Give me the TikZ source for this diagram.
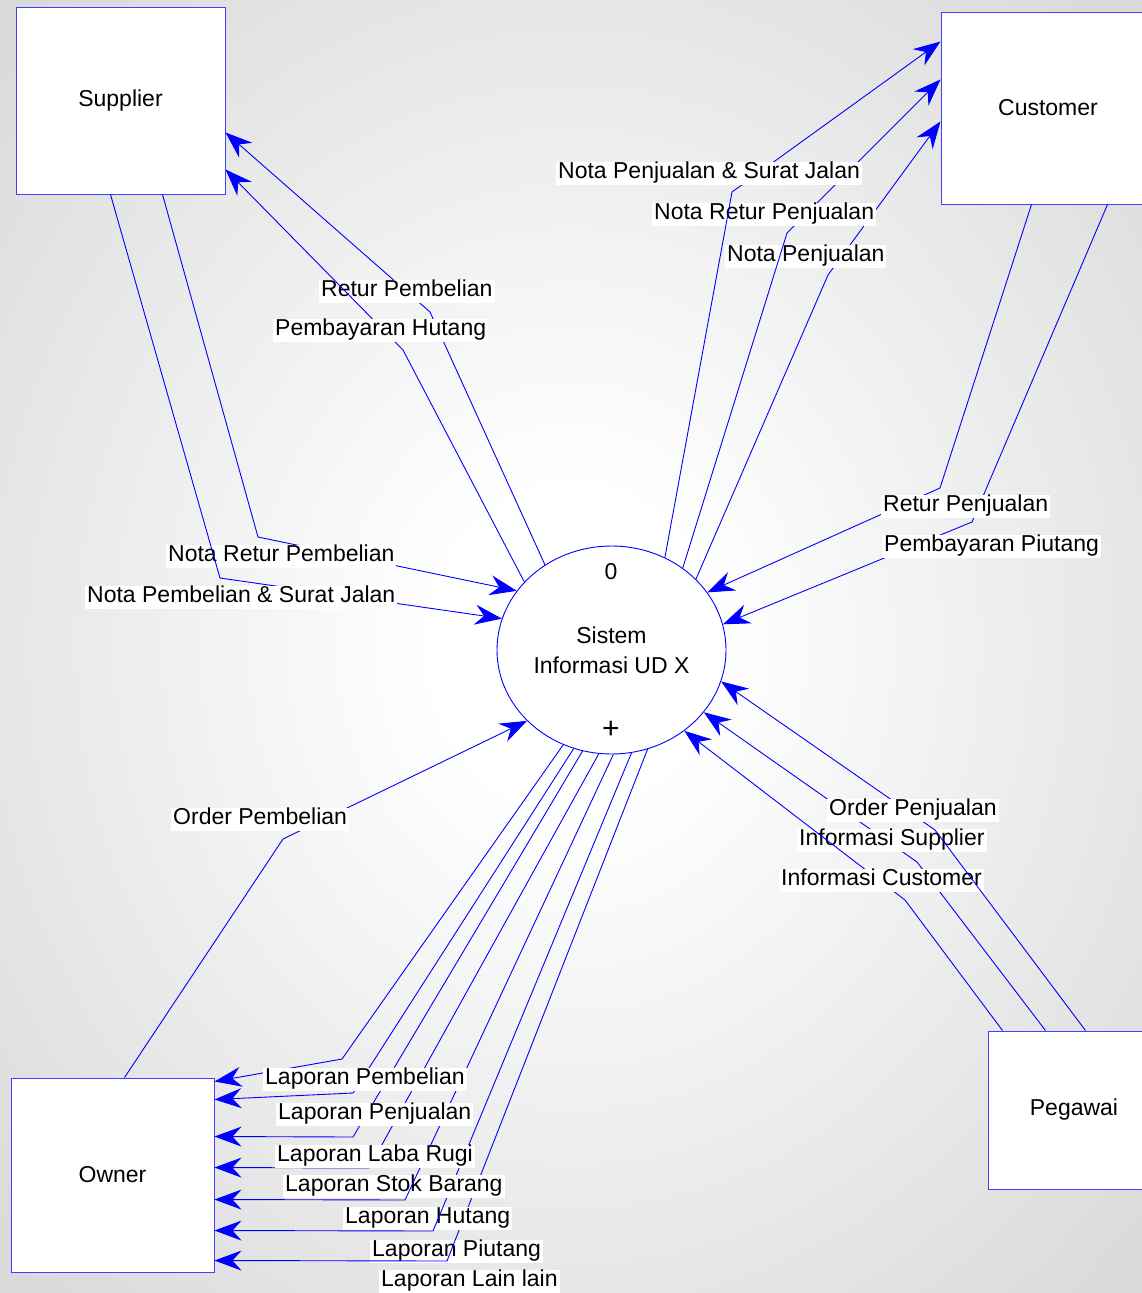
\documentclass[tikz,border=0pt]{standalone}
\usepackage{fontspec}
\setmainfont{Liberation Sans}
\usetikzlibrary{arrows.meta,shapes.geometric}
\definecolor{bgdark}{gray}{0.66}
\definecolor{edgeblue}{RGB}{64,64,255}
\pgfdeclareradialshading{bgrad}{\pgfpoint{0bp}{0bp}}{color(0bp)=(white); color(6bp)=(white); color(72bp)=(bgdark)}
\begin{document}
\begin{tikzpicture}[x=1pt,y=-1pt,
  every node/.style={font=\fontsize{23}{30}\selectfont},
  ent/.style={draw=edgeblue, line width=1pt, fill=white, inner sep=0pt},
  proc/.style={ellipse, draw=blue, line width=0.9pt, fill=white, minimum width=229pt, minimum height=208pt, inner sep=0pt, align=center},
  flow/.style={draw=blue, line width=0.9pt, -{Stealth[length=27pt,width=20pt,inset=9pt]}},
  lbl/.style={fill=white, anchor=west, yshift=-2.5pt, inner xsep=2pt, inner ysep=1pt, text height=15.5pt, text depth=5.5pt},
]
\useasboundingbox (0,0) rectangle (1142,1293);
\clip (0,0) rectangle (1142,1293);
\shade[shading=bgrad] (0,0) rectangle (1142,1293);

% entities and process
\node[ent, minimum width=209pt, minimum height=187pt] (S) at (120.5,100.5) {Supplier};
\node[ent, minimum width=214pt, minimum height=192pt] (C) at (1048,108) {Customer};
\node[ent, minimum width=172pt, minimum height=158pt] (G) at (1074,1110) {Pegawai};
\node[ent, minimum width=203pt, minimum height=194pt] (O) at (112.5,1175) {Owner};
\node[proc] (P) at (611.5,650) {Sistem\\Informasi UD X};
\node (pn) at (611,572) {0};
\node[font=\fontsize{30}{30}\selectfont] (pp) at (611,730) {+};

% Supplier flows
\draw[flow] (P.128) -- (430,312) -- ([yshift=-126pt]S.north east);
\node[lbl] (lRP) at (319,289) {Retur Pembelian};
\draw[flow] (P.142) -- (403,350) -- ([yshift=-163pt]S.north east);
\node[lbl] (lPH) at (273,328) {Pembayaran Hutang};
\draw[flow] ([xshift=147pt]S.south west) -- (258,537) -- (P.148);
\node[lbl] (lNRB) at (166,554) {Nota Retur Pembelian};
\draw[flow] ([xshift=95pt]S.south west) -- (220,578) -- (P.164);
\node[lbl] (lNPB) at (85,595) {Nota Pembelian \& Surat Jalan};

% Customer flows
\draw[flow] (P.40) -- (828,275) -- ([yshift=-110pt]C.north west);
\node[lbl] (lNP) at (725,254) {Nota Penjualan};
\draw[flow] (P.49) -- (787,233) -- ([yshift=-68pt]C.north west);
\node[lbl] (lNRP) at (652,212) {Nota Retur Penjualan};
\draw[flow] (P.60) -- (732,192) -- ([yshift=-30pt]C.north west);
\node[lbl] (lNPS) at (556,171) {Nota Penjualan \& Surat Jalan};
\draw[flow] ([xshift=167pt]C.south west) -- (972,522) -- (P.13);
\node[lbl] (lPP) at (882,544) {Pembayaran Piutang};
\draw[flow] ([xshift=91pt]C.south west) -- (940,488) -- (P.31);
\node[lbl] (lRJ) at (881,504) {Retur Penjualan};

% Pegawai flows
\draw[flow] ([xshift=58pt]G.north west) -- (917,862) -- (P.326);
\node[lbl] (lIS) at (797,838) {Informasi Supplier};
\draw[flow] ([xshift=15pt]G.north west) -- (905,900) -- (P.312);
\node[lbl] (lIC) at (779,878) {Informasi Customer};
\draw[flow] ([xshift=98pt]G.north west) -- (935,830) -- (P.344);
\node[lbl] (lOP) at (827,808) {Order Penjualan};

% Owner order
\draw[flow] ([xshift=114pt]O.north west) -- (283,839) -- (P.220);
\node[lbl] (lOPb) at (171,817) {Order Pembelian};

% Owner reports
\node[lbl] (lL7) at (379,1279) {Laporan Lain lain};
\node[lbl] (lL6) at (370,1249) {Laporan Piutang};
\draw[flow] (P.290) -- (447,1261) -- ([yshift=-183pt]O.north east);
\node[lbl] (lL5) at (343,1216) {Laporan Hutang};
\draw[flow] (P.281) -- (433,1231) -- ([yshift=-153pt]O.north east);
\node[lbl] (lL4) at (283,1184) {Laporan Stok Barang};
\draw[flow] (P.271) -- (405,1200) -- ([yshift=-122pt]O.north east);
\draw[flow] (P.263) -- (369,1168) -- ([yshift=-90pt]O.north east);
\draw[flow] (P.254) -- (353,1137) -- ([yshift=-59pt]O.north east);
\draw[flow] (P.249) -- (353,1093) -- ([yshift=-22pt]O.north east);
\draw[flow] (P.243) -- (342,1059) -- ([yshift=-4pt]O.north east);
\node[lbl] (lL3) at (275,1154) {Laporan Laba Rugi};
\node[lbl] (lL2) at (276,1112) {Laporan Penjualan};
\node[lbl] (lL1) at (263,1077) {Laporan Pembelian};
\end{tikzpicture}
\end{document}
